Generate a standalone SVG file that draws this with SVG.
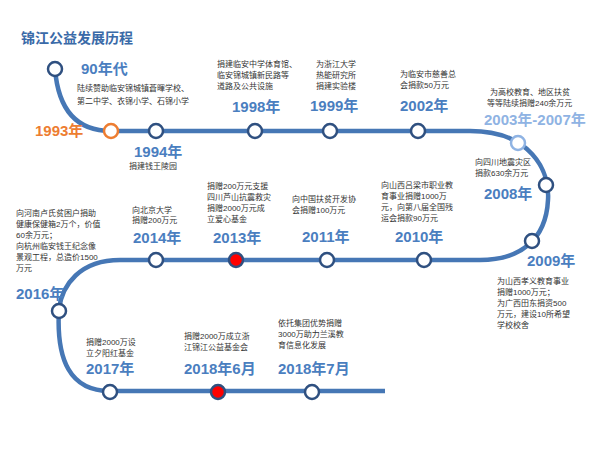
<svg xmlns="http://www.w3.org/2000/svg" width="600" height="450" viewBox="0 0 600 450">
<style>
.t{font-family:"Liberation Sans","Noto Sans CJK SC",sans-serif;font-size:8px;fill:#333}
.y{font-family:"Liberation Sans","Noto Sans CJK SC",sans-serif;font-size:15px;font-weight:bold;fill:#4a7ebf}
.c{fill:#fff;stroke:#2f5080;stroke-width:2.5}
</style>
<rect width="600" height="450" fill="#fff"/>
<text x="21" y="43" style="font-family:'Liberation Sans','Noto Sans CJK SC',sans-serif;font-size:14px;font-weight:bold;fill:#3a6aa8">锦江公益发展历程</text>
<g id="connectors">
<path d="M55,69 Q60,131 111,131 H470 C530,131 550,170 548,200 C546,240 520,260 480,260 H120 C80,260 62,285 59,309 C56,360 70,391 110,391 H385" fill="none" stroke="#4677b5" stroke-width="4.5"/>
</g>
<g id="n90"><circle class="c" cx="55" cy="69" r="7"/><text class="y" x="81" y="74">90年代</text><text class="t" x="77" y="91">陆续赞助临安锦城镇蒼暉学校、</text><text class="t" x="77" y="104">第二中学、衣锦小学、石锦小学</text></g>
<g id="n1993"><circle cx="111" cy="131" r="7" fill="#fff" stroke="#ed7d31" stroke-width="2.5"/><text class="y" x="35" y="136" style="fill:#ed7d31">1993年</text></g>
<g id="n1994"><circle class="c" cx="156" cy="131" r="7"/><text class="y" x="134" y="157">1994年</text><text class="t" x="129" y="169">捐建钱王陵园</text></g>
<g id="n1998"><circle class="c" cx="255" cy="131" r="7"/><text class="y" x="232" y="112">1998年</text><text class="t" x="217" y="67">捐建临安中学体育馆、</text><text class="t" x="217" y="78">临安锦城镇新民路等</text><text class="t" x="217" y="89">道路及公共设施</text></g>
<g id="n1999"><circle class="c" cx="330" cy="131" r="7"/><text class="y" x="310" y="111">1999年</text><text class="t" x="316" y="67">为浙江大学</text><text class="t" x="316" y="78">热能研究所</text><text class="t" x="316" y="89">捐建实验楼</text></g>
<g id="n2002"><circle class="c" cx="418" cy="131" r="7"/><text class="y" x="400" y="111">2002年</text><text class="t" x="400" y="77">为临安市慈善总</text><text class="t" x="400" y="88">会捐款50万元</text></g>
<g id="n2003"><circle cx="518" cy="143" r="7" fill="#fff" stroke="#8fb3e3" stroke-width="2.5"/><text class="y" x="484" y="125" style="fill:#8fb3e3">2003年-2007年</text><text class="t" x="490" y="95">为高校教育、地区扶贫</text><text class="t" x="487" y="106">等等陆续捐赠240余万元</text></g>
<g id="n2008"><circle class="c" cx="546" cy="185" r="7"/><text class="y" x="484" y="199">2008年</text><text class="t" x="475" y="165">向四川地震灾区</text><text class="t" x="475" y="176">捐款630余万元</text></g>
<g id="n2009"><circle class="c" cx="532" cy="241" r="7"/><text class="y" x="527" y="266">2009年</text><text class="t" x="497" y="284">为山西孝义教育事业</text><text class="t" x="497" y="295">捐赠1000万元；</text><text class="t" x="497" y="306">为广西田东捐资500</text><text class="t" x="497" y="317">万元，建设10所希望</text><text class="t" x="497" y="328">学校校舍</text></g>
<g id="n2010"><circle class="c" cx="424" cy="260" r="7"/><text class="y" x="395" y="242">2010年</text><text class="t" x="381" y="188">向山西吕梁市职业教</text><text class="t" x="381" y="199">育事业捐赠1000万</text><text class="t" x="381" y="210">元，向第八届全国残</text><text class="t" x="381" y="221">运会捐款90万元</text></g>
<g id="n2011"><circle class="c" cx="327" cy="260" r="7"/><text class="y" x="302" y="242">2011年</text><text class="t" x="292" y="202">向中国扶贫开发协</text><text class="t" x="292" y="213">会捐赠100万元</text></g>
<g id="n2013"><circle cx="236" cy="260" r="7" fill="#f00" stroke="#2f5080" stroke-width="2.5"/><text class="y" x="213" y="243">2013年</text><text class="t" x="207" y="189">捐赠200万元支援</text><text class="t" x="207" y="200">四川芦山抗震救灾</text><text class="t" x="207" y="211">捐赠2000万元成</text><text class="t" x="207" y="222">立爱心基金</text></g>
<g id="n2014"><circle class="c" cx="156" cy="260" r="7"/><text class="y" x="133" y="243">2014年</text><text class="t" x="132" y="213">向北京大学</text><text class="t" x="132" y="223">捐赠200万元</text></g>
<g id="n2016"><circle class="c" cx="59" cy="311" r="7"/><text class="y" x="16" y="299">2016年</text><text class="t" x="16" y="216">向河南卢氏贫困户捐助</text><text class="t" x="16" y="227">健康保健箱2万个，价值</text><text class="t" x="16" y="238">60余万元；</text><text class="t" x="16" y="249">向杭州临安钱王纪念像</text><text class="t" x="16" y="260">景观工程，总造价1500</text><text class="t" x="16" y="271">万元</text></g>
<g id="n2017"><circle class="c" cx="110" cy="392" r="7"/><text class="y" x="86" y="374">2017年</text><text class="t" x="86" y="345">捐赠2000万设</text><text class="t" x="86" y="356">立夕阳红基金</text></g>
<g id="n20186"><circle cx="218" cy="392" r="7" fill="#f00" stroke="#2f5080" stroke-width="2.5"/><text class="y" x="184" y="374">2018年6月</text><text class="t" x="184" y="339">捐赠2000万成立浙</text><text class="t" x="184" y="350">江锦江公益基金会</text></g>
<g id="n20187"><circle class="c" cx="312" cy="392" r="7"/><text class="y" x="278" y="374">2018年7月</text><text class="t" x="278" y="326">依托集团优势捐赠</text><text class="t" x="278" y="337">3000万助力兰溪教</text><text class="t" x="278" y="348">育信息化发展</text></g>
</svg>
